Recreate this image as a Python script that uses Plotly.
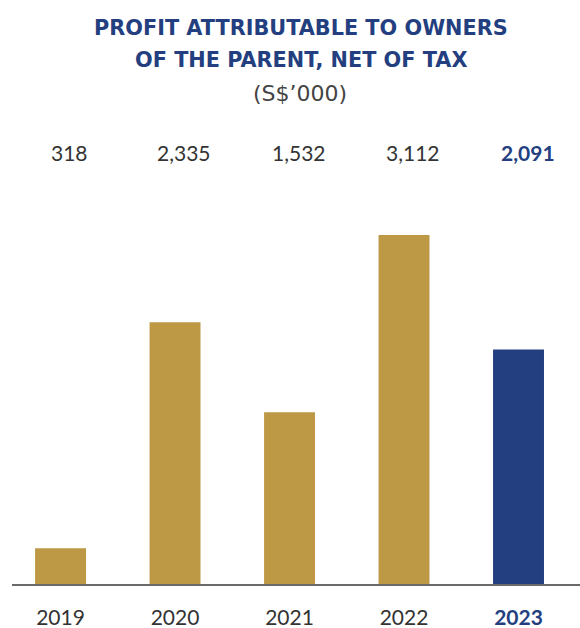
import plotly.graph_objects as go

years = ["2019", "2020", "2021", "2022", "2023"]
profit = [318, 2335, 1532, 3112, 2091]
value_labels = ["318", "2,335", "1,532", "3,112", "2,091"]

GOLD = "#BD9946"
NAVY = "#243F7F"
TEXT = "#333333"

W, H = 580, 628
M_L, M_R, M_T, M_B = 12, 0, 200, 44
plot_w = W - M_L - M_R
plot_h = H - M_T - M_B

bar_colors = [GOLD] * (len(years) - 1) + [NAVY]
tick_text = list(years[:-1]) + [f"<b><span style='color:{NAVY}'>{years[-1]}</span></b>"]


def py(pixel_y):
    """Convert a pixel row to paper coordinates."""
    return (H - M_B - pixel_y) / plot_h


def px(pixel_x):
    """Convert a pixel column to paper coordinates."""
    return (pixel_x - M_L) / plot_w


fig = go.Figure(
    go.Bar(
        x=years,
        y=profit,
        marker=dict(color=bar_colors, line=dict(width=0)),
        hoverinfo="skip",
    )
)

title_font = dict(family="DejaVu Sans", size=20.8, color=NAVY)
annotations = [
    dict(text="<b>PROFIT ATTRIBUTABLE TO OWNERS</b>", x=px(301), y=py(28), font=title_font),
    dict(text="<b>OF THE PARENT, NET OF TAX</b>", x=px(301), y=py(60), font=title_font),
    dict(text="(S$’000)", x=px(300), y=py(93),
         font=dict(family="DejaVu Sans", size=22, color="#444444")),
]
for a in annotations:
    a.update(xref="paper", yref="paper", showarrow=False, xanchor="center", yanchor="middle")

for i, lab in enumerate(value_labels):
    last = i == len(years) - 1
    annotations.append(dict(
        text=f"<b>{lab}</b>" if last else lab,
        x=i, xref="x", y=py(152), yref="paper", showarrow=False,
        xanchor="center", yanchor="middle", xshift=9,
        font=dict(family="Lato", size=21, color=NAVY if last else TEXT),
    ))

fig.update_layout(
    width=W, height=H,
    margin=dict(l=M_L, r=M_R, t=M_T, b=M_B),
    paper_bgcolor="white", plot_bgcolor="white",
    bargap=0.555,
    showlegend=False,
    annotations=annotations,
    xaxis=dict(
        type="category",
        range=[-0.424, 4.537],
        tickmode="array", tickvals=years, ticktext=tick_text,
        showline=True, linecolor="#6a6a6a", linewidth=2,
        showgrid=False, zeroline=False, ticks="",
        tickfont=dict(family="Lato", size=21, color=TEXT),
        ticklabelstandoff=14,
    ),
    yaxis=dict(range=[0, plot_h / 0.11215], visible=False, showgrid=False, zeroline=False),
)

fig.write_html("out.html")
